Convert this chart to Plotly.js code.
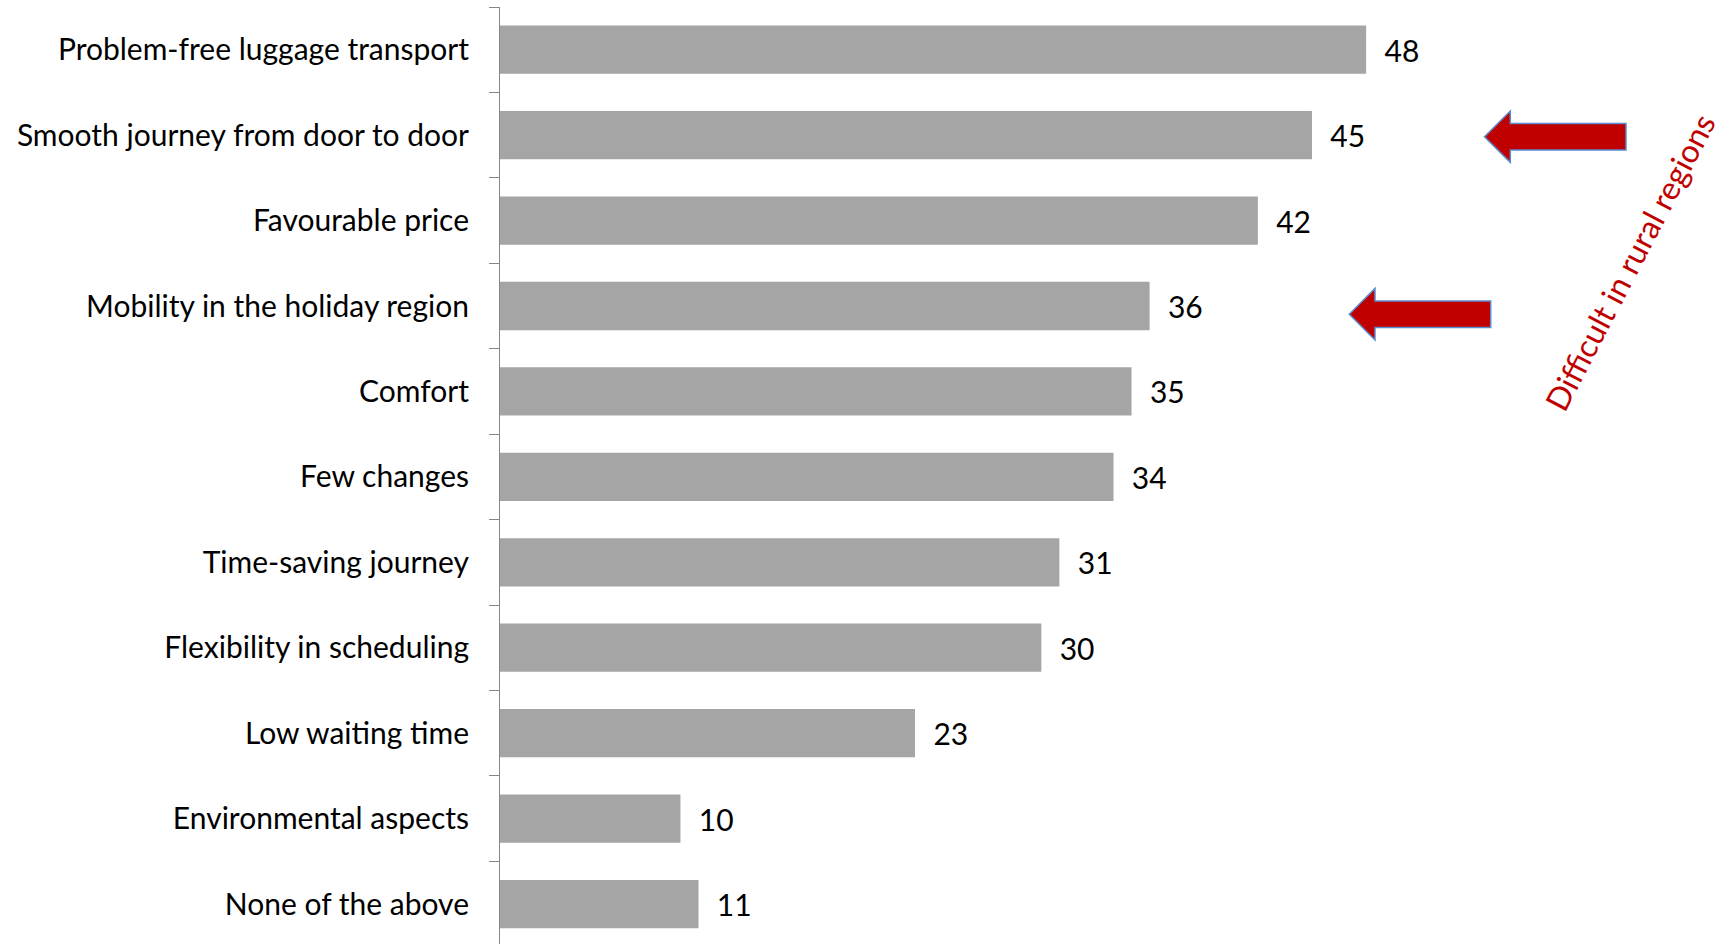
<!DOCTYPE html>
<html>
<head>
<meta charset="utf-8">
<script src="https://cdn.plot.ly/plotly-3.0.1.min.js"></script>
<style>
  html, body { margin: 0; padding: 0; background: #fff; }
  #chart { width: 1727px; height: 944px; }
</style>
</head>
<body>
<div id="chart"></div>
<script>
// Data
const categories = [
  "Problem-free luggage transport",
  "Smooth journey from door to door",
  "Favourable price",
  "Mobility in the holiday region",
  "Comfort",
  "Few changes",
  "Time-saving journey",
  "Flexibility in scheduling",
  "Low waiting time",
  "Environmental aspects",
  "None of the above"
];
const values = [48, 45, 42, 36, 35, 34, 31, 30, 23, 10, 11];
const noteText = "Difficult in rural regions";

// Layout geometry
const W = 1727, H = 944;
const M = { l: 500, r: 0, t: 7, b: 0 };
const plotW = W - M.l - M.r, plotH = H - M.t - M.b;
const px2x = px => (px - M.l) / plotW;
const py2y = py => (H - M.b - py) / plotH;

function arrowPath(tipX, tipY, headX, headHalf, shaftHalf, tailX) {
  const pts = [
    [tipX, tipY],
    [headX, tipY - headHalf],
    [headX, tipY - shaftHalf],
    [tailX, tipY - shaftHalf],
    [tailX, tipY + shaftHalf],
    [headX, tipY + shaftHalf],
    [headX, tipY + headHalf]
  ];
  return "M " + pts.map(p => px2x(p[0]).toFixed(5) + "," + py2y(p[1]).toFixed(5)).join(" L ") + " Z";
}

const FONT = "Lato, 'Open Sans', sans-serif";

const trace = {
  type: "bar",
  orientation: "h",
  y: categories,
  x: values,
  marker: { color: "#A5A5A5" },
  text: values.map(v => "\u00a0\u00a0" + v),
  textposition: "outside",
  textfont: { family: FONT, size: 30, color: "#000000" },
  constraintext: "none",
  cliponaxis: false,
  hoverinfo: "skip"
};

const catPx = 85.43;
const layout = {
  width: W,
  height: H,
  margin: M,
  paper_bgcolor: "#ffffff",
  plot_bgcolor: "#ffffff",
  showlegend: false,
  bargap: 0.435,
  font: { family: FONT, size: 30, color: "#000000" },
  xaxis: {
    visible: false,
    range: [0, 68],
    fixedrange: true
  },
  yaxis: {
    type: "category",
    range: [-0.5 + plotH / catPx, -0.5],
    showline: true,
    linecolor: "#868686",
    linewidth: 1,
    ticks: "outside",
    tickson: "boundaries",
    ticklen: 10,
    tickcolor: "#868686",
    tickwidth: 1,
    ticklabelstandoff: 24,
    showgrid: false,
    zeroline: false,
    tickfont: { family: FONT, size: 30, color: "#000000" },
    fixedrange: true
  },
  shapes: [
    {
      type: "path", xref: "paper", yref: "paper",
      path: arrowPath(1484.5, 136.7, 1510.3, 25.7, 13.3, 1626),
      fillcolor: "#C00000",
      line: { color: "#5B8BD0", width: 1.5 },
      layer: "above"
    },
    {
      type: "path", xref: "paper", yref: "paper",
      path: arrowPath(1349.3, 314.2, 1375, 25.8, 13.2, 1490.7),
      fillcolor: "#C00000",
      line: { color: "#5B8BD0", width: 1.5 },
      layer: "above"
    }
  ],
  annotations: [
    {
      xref: "paper", yref: "paper",
      x: px2x(1629), y: py2y(262),
      xanchor: "center", yanchor: "middle",
      text: noteText,
      showarrow: false,
      textangle: -62.5,
      font: { family: FONT, size: 32, color: "#C00000" }
    }
  ]
};

Plotly.newPlot("chart", [trace], layout, { staticPlot: true, displayModeBar: false });
</script>
</body>
</html>
